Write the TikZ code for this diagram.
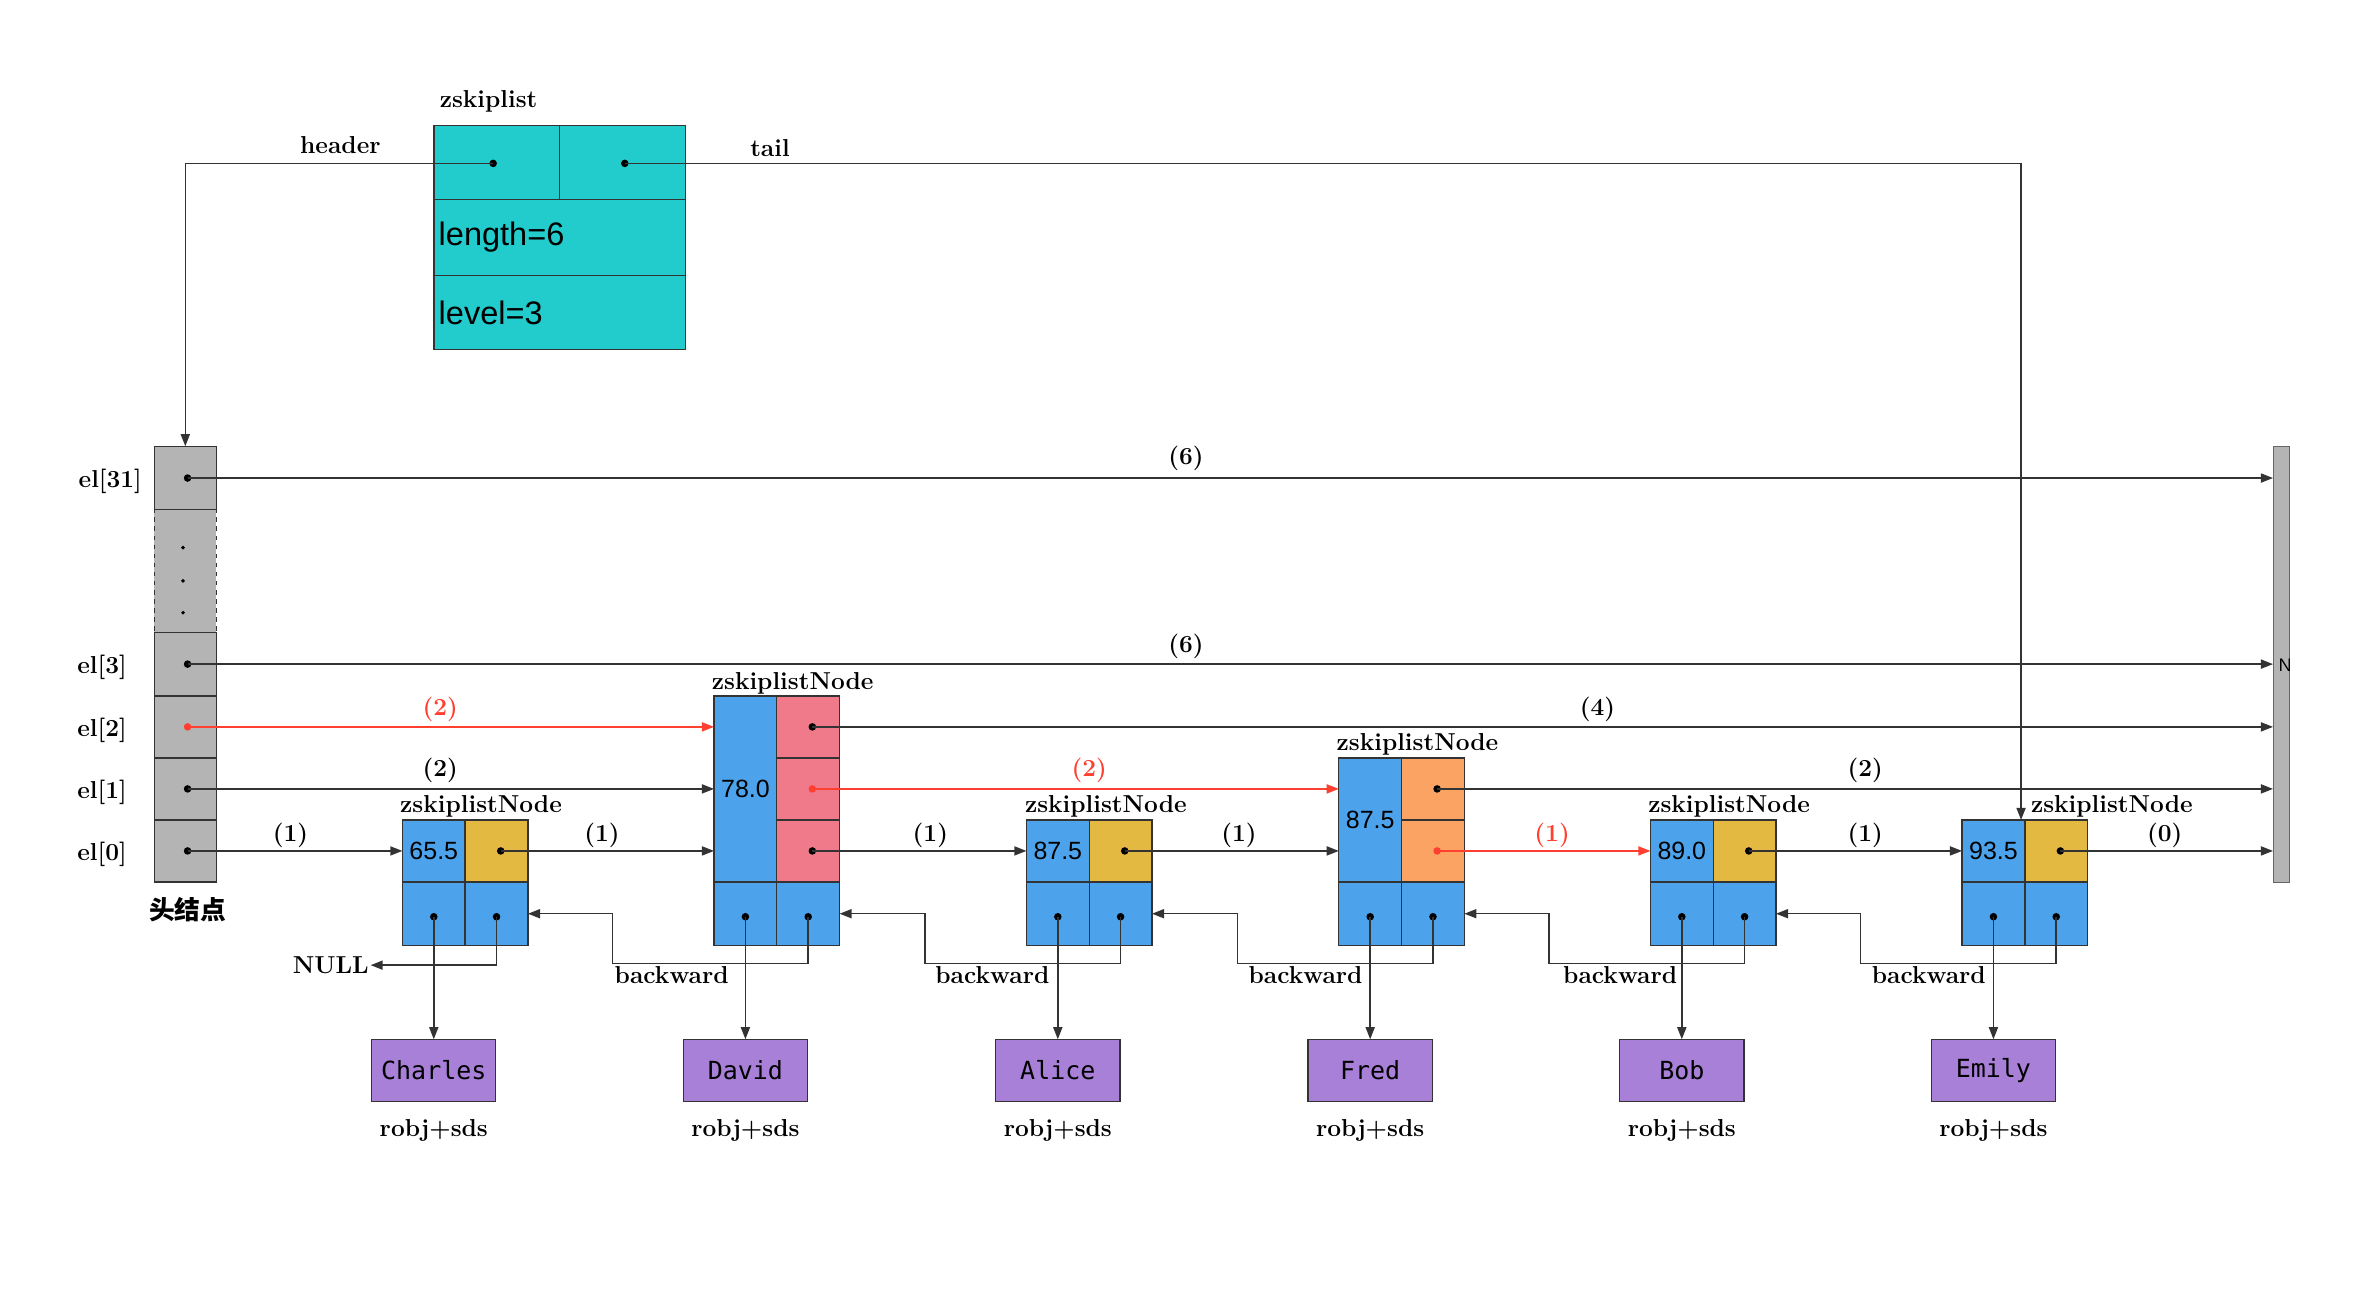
\documentclass[tikz,border=0pt]{standalone}
\usepackage{fontspec}
\newfontfamily\cellfont{Liberation Sans}
\newfontfamily\objfont{DejaVu Sans Mono}
\newfontfamily\cjkfont{Noto Sans CJK SC}
\usetikzlibrary{arrows.meta}

\definecolor{hgray}{RGB}{180,180,180}
\definecolor{zcyan}{RGB}{34,204,204}
\definecolor{sblue}{RGB}{76,163,236}
\definecolor{lgold}{RGB}{228,185,66}
\definecolor{lpink}{RGB}{240,122,138}
\definecolor{lorange}{RGB}{250,163,98}
\definecolor{opurple}{RGB}{168,128,216}
\definecolor{lred}{RGB}{255,64,48}

\tikzset{
  lbl/.style={font=\fontsize{16.2}{19}\selectfont\bfseries, inner sep=1pt},
  redlbl/.style={lbl, text=lred},
  cell/.style={draw=black!80, line width=0.9pt, inner sep=0pt, outer sep=0pt},
  hcell/.style={cell, fill=hgray, minimum width=41, minimum height=41},
  zcell/.style={cell, fill=zcyan, font=\cellfont\fontsize{21.5}{24}\selectfont},
  scell/.style={cell, fill=sblue, minimum width=41.5, font=\cellfont\fontsize{16.5}{18}\selectfont},
  lcell/.style={cell, minimum width=41.5, minimum height=41},
  bcell/.style={cell, fill=sblue, minimum width=41.5, minimum height=42},
  objbox/.style={cell, fill=opurple, minimum width=82, minimum height=41, font=\objfont\fontsize{16.5}{18}\selectfont},
  dot/.style={circle, fill=black, inner sep=0pt, minimum size=5},
  reddot/.style={dot, fill=lred},
  tinydot/.style={circle, fill=black, inner sep=0pt, minimum size=2.6},
  link/.style={draw=black!80, line width=1pt, -{Triangle[length=8,width=6]}},
  redlink/.style={link, draw=lred, -{Triangle[length=8,width=6,fill=lred]}}
}

\begin{document}
\begin{tikzpicture}[x=1pt,y=1pt,yscale=-1,xscale=1]
\useasboundingbox (0,0) rectangle (1568,854);

%zskiplist
\node[zcell, minimum width=83, minimum height=49] (zheader) at (328.5,107.5) {};
\node[zcell, minimum width=83, minimum height=49] (ztail) at (411.5,107.5) {};
\node[zcell, minimum width=166, minimum height=50, text width=160, align=left] (zlength) at (370,157) {length=6};
\node[zcell, minimum width=166, minimum height=49, text width=160, align=left] (zlevel) at (370,206.5) {level=3};
\node[dot] (zh) at (326,108) {};
\node[dot] (zt) at (413,108) {};
\node[lbl] (zname) at (323,67) {zskiplist};
\node[lbl] (headertxt) at (225,96) {header};
\node[lbl] (tailtxt) at (509,98) {tail};

%header node
\node[hcell, minimum height=42] (el31) at (122.5,316) {};
\node[hcell, dashed, minimum height=81] (eldots) at (122.5,377.5) {};
\node[hcell, minimum height=42] (el3) at (122.5,439) {};
\node[hcell] (el2) at (122.5,480.5) {};
\node[hcell] (el1) at (122.5,521.5) {};
\node[hcell] (el0) at (122.5,562.5) {};
\node[tinydot] (vd1) at (121,362) {};
\node[tinydot] (vd2) at (121,384) {};
\node[tinydot] (vd3) at (121,405) {};
\node[dot] (p31) at (124,316) {};
\node[dot] (p3) at (124,439) {};
\node[reddot] (p2) at (124,480.5) {};
\node[dot] (p1) at (124,521.5) {};
\node[dot] (p0) at (124,562.5) {};
\node[lbl, anchor=east] (t31) at (95,318) {el[31]};
\node[lbl, anchor=east] (t3) at (85,441) {el[3]};
\node[lbl, anchor=east] (t2) at (85,482.5) {el[2]};
\node[lbl, anchor=east] (t1) at (85,523.5) {el[1]};
\node[lbl, anchor=east] (t0) at (85,564.5) {el[0]};
\node[font=\cjkfont\fontsize{17}{20}\selectfont\bfseries, inner sep=1pt] (headlbl) at (124,601) {头结点};

%tail bar
\node[draw=black!60, fill=hgray, minimum width=10.5, minimum height=288, inner sep=0pt] (nullbar) at (1508,439) {};
\begin{scope}
\clip (nullbar.south west) rectangle (nullbar.north east);
\node[font=\cellfont\fontsize{12}{14}\selectfont, anchor=west, inner sep=0pt] (barnull) at (1506,439.5) {NULL};
\end{scope}

%node 1
\node[scell, minimum height=41] (n1score) at (286.75,562.5) {65.5};
\node[lcell, fill=lgold] (n1lv0) at (328.25,562.5) {};
\node[bcell] (n1obj) at (286.75,604) {};
\node[bcell] (n1back) at (328.25,604) {};
\node[dot] (n1p0) at (331,562.5) {};
\node[dot] (n1po) at (286.75,606) {};
\node[dot] (n1pb) at (328.25,606) {};
\node[lbl, anchor=base] (n1name) at (318,537) {zskiplistNode};

%node 2
\node[scell, minimum height=123] (n2score) at (492.75,521.5) {78.0};
\node[lcell, fill=lpink] (n2lv2) at (534.25,480.5) {};
\node[lcell, fill=lpink] (n2lv1) at (534.25,521.5) {};
\node[lcell, fill=lpink] (n2lv0) at (534.25,562.5) {};
\node[bcell] (n2obj) at (492.75,604) {};
\node[bcell] (n2back) at (534.25,604) {};
\node[dot] (n2p2) at (537,480.5) {};
\node[reddot] (n2p1) at (537,521.5) {};
\node[dot] (n2p0) at (537,562.5) {};
\node[dot] (n2po) at (492.75,606) {};
\node[dot] (n2pb) at (534.25,606) {};
\node[lbl, anchor=base] (n2name) at (524,456) {zskiplistNode};

%node 3
\node[scell, minimum height=41] (n3score) at (699.25,562.5) {87.5};
\node[lcell, fill=lgold] (n3lv0) at (740.75,562.5) {};
\node[bcell] (n3obj) at (699.25,604) {};
\node[bcell] (n3back) at (740.75,604) {};
\node[dot] (n3p0) at (743.5,562.5) {};
\node[dot] (n3po) at (699.25,606) {};
\node[dot] (n3pb) at (740.75,606) {};
\node[lbl, anchor=base] (n3name) at (731,537) {zskiplistNode};

%node 4
\node[scell, minimum height=82] (n4score) at (905.75,542) {87.5};
\node[lcell, fill=lorange] (n4lv1) at (947.25,521.5) {};
\node[lcell, fill=lorange] (n4lv0) at (947.25,562.5) {};
\node[bcell] (n4obj) at (905.75,604) {};
\node[bcell] (n4back) at (947.25,604) {};
\node[dot] (n4p1) at (950,521.5) {};
\node[reddot] (n4p0) at (950,562.5) {};
\node[dot] (n4po) at (905.75,606) {};
\node[dot] (n4pb) at (947.25,606) {};
\node[lbl, anchor=base] (n4name) at (937,496) {zskiplistNode};

%node 5
\node[scell, minimum height=41] (n5score) at (1111.75,562.5) {89.0};
\node[lcell, fill=lgold] (n5lv0) at (1153.25,562.5) {};
\node[bcell] (n5obj) at (1111.75,604) {};
\node[bcell] (n5back) at (1153.25,604) {};
\node[dot] (n5p0) at (1156,562.5) {};
\node[dot] (n5po) at (1111.75,606) {};
\node[dot] (n5pb) at (1153.25,606) {};
\node[lbl, anchor=base] (n5name) at (1143,537) {zskiplistNode};

%node 6
\node[scell, minimum height=41] (n6score) at (1317.75,562.5) {93.5};
\node[lcell, fill=lgold] (n6lv0) at (1359.25,562.5) {};
\node[bcell] (n6obj) at (1317.75,604) {};
\node[bcell] (n6back) at (1359.25,604) {};
\node[dot] (n6p0) at (1362,562.5) {};
\node[dot] (n6po) at (1317.75,606) {};
\node[dot] (n6pb) at (1359.25,606) {};
\node[lbl, anchor=base] (n6name) at (1396,537) {zskiplistNode};

%objects
\node[objbox] (charles) at (286.75,707.5) {Charles};
\node[objbox] (david) at (492.75,707.5) {David};
\node[objbox] (alice) at (699.25,707.5) {Alice};
\node[objbox] (fred) at (905.75,707.5) {Fred};
\node[objbox] (bob) at (1111.75,707.5) {Bob};
\node[objbox] (emily) at (1317.75,707.5) {Emily};
\node[lbl] (r1) at (286.75,747) {robj+sds};
\node[lbl] (r2) at (492.75,747) {robj+sds};
\node[lbl] (r3) at (699.25,747) {robj+sds};
\node[lbl] (r4) at (905.75,747) {robj+sds};
\node[lbl] (r5) at (1111.75,747) {robj+sds};
\node[lbl] (r6) at (1317.75,747) {robj+sds};

%header and tail pointers
\coordinate (tailend) at (1336,542);
\draw[link] (zh.center) -| (el31.north);
\draw[link] (zt.center) -| (tailend);

%level pointers
\draw[link] (p31.center) -- (nullbar.west |- p31.center);
\draw[link] (p3.center) -- (nullbar.west |- p3.center);
\draw[redlink] (p2.center) -- (n2score.west |- p2.center);
\draw[link] (p1.center) -- (n2score.west |- p1.center);
\draw[link] (p0.center) -- (n1score.west);
\draw[link] (n1p0.center) -- (n2score.west |- n1p0.center);
\draw[link] (n2p2.center) -- (nullbar.west |- n2p2.center);
\draw[redlink] (n2p1.center) -- (n4score.west |- n2p1.center);
\draw[link] (n2p0.center) -- (n3score.west);
\draw[link] (n3p0.center) -- (n4score.west |- n3p0.center);
\draw[link] (n4p1.center) -- (nullbar.west |- n4p1.center);
\draw[redlink] (n4p0.center) -- (n5score.west);
\draw[link] (n5p0.center) -- (n6score.west);
\draw[link] (n6p0.center) -- (nullbar.west |- n6p0.center);

%spans
\node[lbl] (w31) at (784,303) {(6)};
\node[lbl] (w3) at (784,427) {(6)};
\node[redlbl] (w2) at (291,469) {(2)};
\node[lbl] (w1) at (291,509) {(2)};
\node[lbl] (w0) at (192,552) {(1)};
\node[lbl] (n1w) at (398,552) {(1)};
\node[lbl] (n2w2) at (1056,469) {(4)};
\node[redlbl] (n2w1) at (720,509) {(2)};
\node[lbl] (n2w0) at (615,552) {(1)};
\node[lbl] (n3w) at (819,552) {(1)};
\node[lbl] (n4w1) at (1233,509) {(2)};
\node[redlbl] (n4w0) at (1026,552) {(1)};
\node[lbl] (n5w) at (1233,552) {(1)};
\node[lbl] (n6w) at (1431,552) {(0)};

%obj pointers
\draw[link] (n1po.center) -- (charles.north);
\draw[link] (n2po.center) -- (david.north);
\draw[link] (n3po.center) -- (alice.north);
\draw[link] (n4po.center) -- (fred.north);
\draw[link] (n5po.center) -- (bob.north);
\draw[link] (n6po.center) -- (emily.north);

%backward pointers
\node[lbl, anchor=east] (nulltxt) at (245,638) {NULL};
\draw[link] (n1pb.center) |- (nulltxt.east);
\coordinate (n2turn) at (405,637);
\coordinate (n3turn) at (611.5,637);
\coordinate (n4turn) at (818,637);
\coordinate (n5turn) at (1024,637);
\coordinate (n6turn) at (1230,637);
\draw[link] (n2pb.center) |- (n2turn) |- (n1back.east);
\draw[link] (n3pb.center) |- (n3turn) |- (n2back.east);
\draw[link] (n4pb.center) |- (n4turn) |- (n3back.east);
\draw[link] (n5pb.center) |- (n5turn) |- (n4back.east);
\draw[link] (n6pb.center) |- (n6turn) |- (n5back.east);
\node[lbl, anchor=north] (n2bw) at (444,638) {backward};
\node[lbl, anchor=north] (n3bw) at (656,638) {backward};
\node[lbl, anchor=north] (n4bw) at (863,638) {backward};
\node[lbl, anchor=north] (n5bw) at (1071,638) {backward};
\node[lbl, anchor=north] (n6bw) at (1275,638) {backward};

\end{tikzpicture}
\end{document}
